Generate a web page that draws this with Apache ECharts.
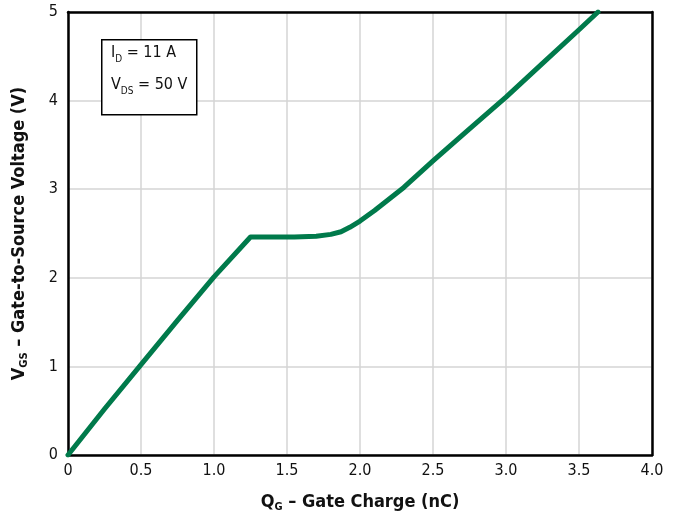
<!DOCTYPE html>
<html>
<head>
<meta charset="utf-8">
<script src="https://cdn.jsdelivr.net/npm/echarts@6/dist/echarts.min.js"></script>
<style>html,body{margin:0;padding:0;background:#fff}#c{width:683px;height:518px}</style>
</head>
<body>
<div id="c"></div>
<script>
var qg = [0, 0.25, 0.5, 0.75, 1.0, 1.25, 1.4, 1.55, 1.7, 1.8, 1.87, 1.93, 2.0, 2.1, 2.2, 2.3, 2.5, 2.75, 3.0, 3.25, 3.5, 3.63];
var vgs = [0, 0.52, 1.02, 1.52, 2.01, 2.46, 2.46, 2.46, 2.47, 2.49, 2.52, 2.57, 2.64, 2.76, 2.89, 3.02, 3.32, 3.68, 4.04, 4.42, 4.8, 5.0];
var xTicks = ['0', '0.5', '1.0', '1.5', '2.0', '2.5', '3.0', '3.5', '4.0'];
var yTicks = ['0', '1', '2', '3', '4', '5'];

var FONT = "'Liberation Sans Narrow', 'DejaVu Sans Condensed', 'Arial Narrow', sans-serif";
var chart = echarts.init(document.getElementById('c'));
var data = qg.map(function (x, i) { return [x, vgs[i]]; });

var blackLine = { show: true, onZero: false, lineStyle: { color: '#000', width: 2.5 } };
var nameRich = {
  b: { fontSize: 18, fontWeight: 'bold', fontFamily: FONT, color: '#111', lineHeight: 22, verticalAlign: 'middle' },
  s: { fontSize: 11, fontWeight: 'bold', fontFamily: FONT, color: '#111', lineHeight: 9, verticalAlign: 'bottom' }
};

chart.setOption({
  animation: false,
  grid: { left: 68, right: 31, top: 12, bottom: 61 },
  xAxis: [{
    type: 'value', min: 0, max: 4, interval: 0.5,
    axisLine: blackLine,
    axisTick: { show: false },
    splitLine: { show: true, lineStyle: { color: '#d4d4d4', width: 1.5 } },
    axisLabel: { margin: 8, color: '#111', fontSize: 16, fontFamily: FONT,
      formatter: function (v) { return xTicks[Math.round(v / 0.5)]; } },
    name: '{b|Q}{s|G}{b| – Gate Charge (nC)}',
    nameLocation: 'middle', nameGap: 36,
    nameTextStyle: { rich: nameRich }
  }, {
    type: 'value', position: 'top', min: 0, max: 4, interval: 0.5,
    axisLine: blackLine, axisTick: { show: false }, axisLabel: { show: false }, splitLine: { show: false }
  }],
  yAxis: [{
    type: 'value', min: 0, max: 5, interval: 1,
    axisLine: blackLine,
    axisTick: { show: false },
    splitLine: { show: true, lineStyle: { color: '#d4d4d4', width: 1.5 } },
    axisLabel: { margin: 10, color: '#111', fontSize: 16, fontFamily: FONT,
      formatter: function (v) { return yTicks[Math.round(v)]; } },
    name: '{b|V}{s|GS}{b| – Gate-to-Source Voltage (V)}',
    nameLocation: 'middle', nameGap: 38,
    nameTextStyle: { rich: nameRich }
  }, {
    type: 'value', position: 'right', min: 0, max: 5, interval: 1,
    axisLine: blackLine, axisTick: { show: false }, axisLabel: { show: false }, splitLine: { show: false }
  }],
  series: [{
    type: 'line', data: data, showSymbol: false, smooth: false,
    lineStyle: { color: '#007a4b', width: 5, cap: 'round', join: 'round' },
    z: 5
  }, {
    type: 'line', xAxisIndex: 1, yAxisIndex: 1, data: [], showSymbol: false, silent: true
  }],
  graphic: [
    { type: 'rect', left: 101, top: 39, shape: { width: 95, height: 75 },
      style: { fill: '#fff', stroke: '#000', lineWidth: 1.5 }, z: 10 },
    { type: 'text', left: 111, top: 45, z: 11,
      style: { text: '{m|I}{s|D}{m| = 11 A}', rich: {
        m: { fontSize: 16, fontFamily: FONT, fill: '#111', lineHeight: 22, verticalAlign: 'middle' },
        s: { fontSize: 10, fontFamily: FONT, fill: '#111', lineHeight: 9, verticalAlign: 'bottom' } } } },
    { type: 'text', left: 111, top: 77, z: 11,
      style: { text: '{m|V}{s|DS}{m| = 50 V}', rich: {
        m: { fontSize: 16, fontFamily: FONT, fill: '#111', lineHeight: 22, verticalAlign: 'middle' },
        s: { fontSize: 10, fontFamily: FONT, fill: '#111', lineHeight: 9, verticalAlign: 'bottom' } } } }
  ]
});
</script>
</body>
</html>
